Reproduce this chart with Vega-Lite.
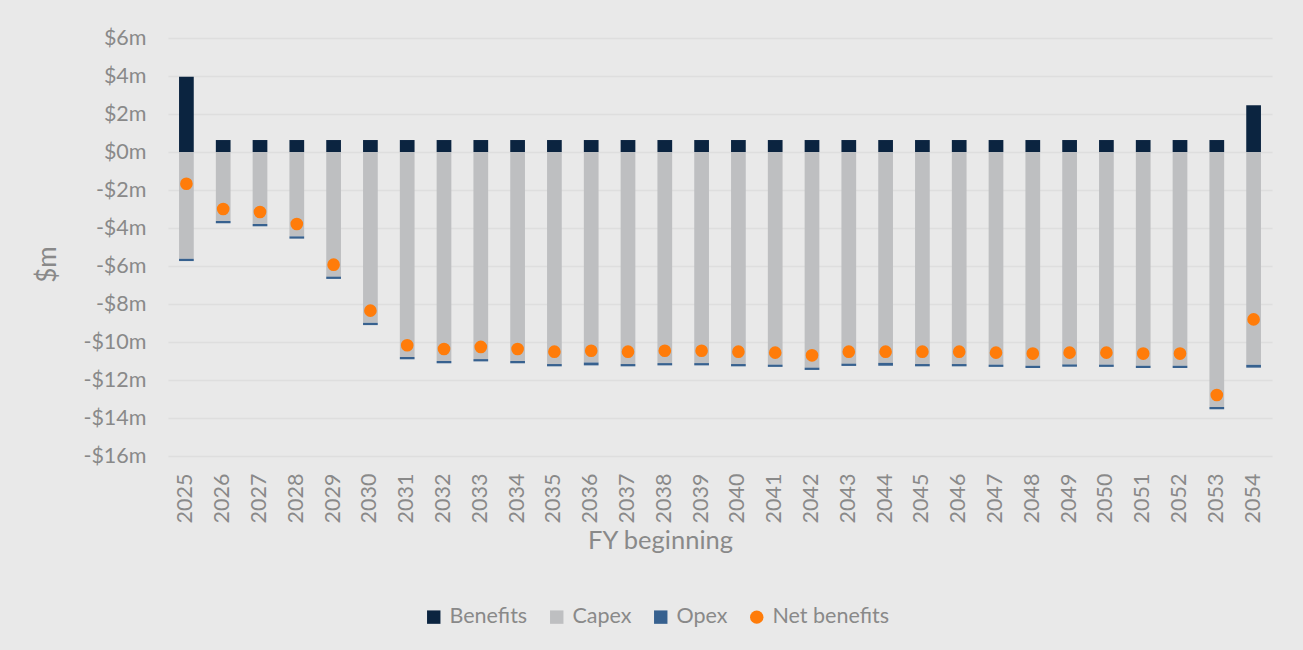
{
  "$schema": "https://vega.github.io/schema/vega-lite/v6.json",
  "width": 1104,
  "height": 418,
  "autosize": {"type": "none"},
  "padding": {"left": 168, "top": 38, "right": 31, "bottom": 194},
  "background": "#E9E9E9",
  "config": {
    "view": {"stroke": null},
    "font": "Lato",
    "axis": {"labelColor": "#898989", "titleColor": "#898989", "labelFont": "Lato", "titleFont": "Lato", "titleFontWeight": "normal"},
    "legend": {"labelColor": "#898989", "labelFont": "Lato"}
  },
  "datasets": {
    "rows": [
      {"year": "2025", "series": "Benefits", "value": 3.96}, {"year": "2025", "series": "Capex", "value": -5.62}, {"year": "2025", "series": "Opex", "value": -0.12}, {"year": "2025", "series": "Net benefits", "value": -1.67},
      {"year": "2026", "series": "Benefits", "value": 0.63}, {"year": "2026", "series": "Capex", "value": -3.63}, {"year": "2026", "series": "Opex", "value": -0.12}, {"year": "2026", "series": "Net benefits", "value": -3.0},
      {"year": "2027", "series": "Benefits", "value": 0.63}, {"year": "2027", "series": "Capex", "value": -3.79}, {"year": "2027", "series": "Opex", "value": -0.12}, {"year": "2027", "series": "Net benefits", "value": -3.16},
      {"year": "2028", "series": "Benefits", "value": 0.63}, {"year": "2028", "series": "Capex", "value": -4.44}, {"year": "2028", "series": "Opex", "value": -0.12}, {"year": "2028", "series": "Net benefits", "value": -3.79},
      {"year": "2029", "series": "Benefits", "value": 0.63}, {"year": "2029", "series": "Capex", "value": -6.56}, {"year": "2029", "series": "Opex", "value": -0.12}, {"year": "2029", "series": "Net benefits", "value": -5.93},
      {"year": "2030", "series": "Benefits", "value": 0.63}, {"year": "2030", "series": "Capex", "value": -8.99}, {"year": "2030", "series": "Opex", "value": -0.12}, {"year": "2030", "series": "Net benefits", "value": -8.35},
      {"year": "2031", "series": "Benefits", "value": 0.63}, {"year": "2031", "series": "Capex", "value": -10.79}, {"year": "2031", "series": "Opex", "value": -0.12}, {"year": "2031", "series": "Net benefits", "value": -10.17},
      {"year": "2032", "series": "Benefits", "value": 0.63}, {"year": "2032", "series": "Capex", "value": -11.0}, {"year": "2032", "series": "Opex", "value": -0.12}, {"year": "2032", "series": "Net benefits", "value": -10.37},
      {"year": "2033", "series": "Benefits", "value": 0.63}, {"year": "2033", "series": "Capex", "value": -10.9}, {"year": "2033", "series": "Opex", "value": -0.12}, {"year": "2033", "series": "Net benefits", "value": -10.26},
      {"year": "2034", "series": "Benefits", "value": 0.63}, {"year": "2034", "series": "Capex", "value": -11.0}, {"year": "2034", "series": "Opex", "value": -0.12}, {"year": "2034", "series": "Net benefits", "value": -10.37},
      {"year": "2035", "series": "Benefits", "value": 0.63}, {"year": "2035", "series": "Capex", "value": -11.16}, {"year": "2035", "series": "Opex", "value": -0.12}, {"year": "2035", "series": "Net benefits", "value": -10.51},
      {"year": "2036", "series": "Benefits", "value": 0.63}, {"year": "2036", "series": "Capex", "value": -11.08}, {"year": "2036", "series": "Opex", "value": -0.15}, {"year": "2036", "series": "Net benefits", "value": -10.46},
      {"year": "2037", "series": "Benefits", "value": 0.63}, {"year": "2037", "series": "Capex", "value": -11.16}, {"year": "2037", "series": "Opex", "value": -0.12}, {"year": "2037", "series": "Net benefits", "value": -10.51},
      {"year": "2038", "series": "Benefits", "value": 0.63}, {"year": "2038", "series": "Capex", "value": -11.11}, {"year": "2038", "series": "Opex", "value": -0.12}, {"year": "2038", "series": "Net benefits", "value": -10.46},
      {"year": "2039", "series": "Benefits", "value": 0.63}, {"year": "2039", "series": "Capex", "value": -11.11}, {"year": "2039", "series": "Opex", "value": -0.12}, {"year": "2039", "series": "Net benefits", "value": -10.46},
      {"year": "2040", "series": "Benefits", "value": 0.63}, {"year": "2040", "series": "Capex", "value": -11.16}, {"year": "2040", "series": "Opex", "value": -0.12}, {"year": "2040", "series": "Net benefits", "value": -10.51},
      {"year": "2041", "series": "Benefits", "value": 0.63}, {"year": "2041", "series": "Capex", "value": -11.19}, {"year": "2041", "series": "Opex", "value": -0.12}, {"year": "2041", "series": "Net benefits", "value": -10.56},
      {"year": "2042", "series": "Benefits", "value": 0.63}, {"year": "2042", "series": "Capex", "value": -11.35}, {"year": "2042", "series": "Opex", "value": -0.12}, {"year": "2042", "series": "Net benefits", "value": -10.7},
      {"year": "2043", "series": "Benefits", "value": 0.63}, {"year": "2043", "series": "Capex", "value": -11.14}, {"year": "2043", "series": "Opex", "value": -0.12}, {"year": "2043", "series": "Net benefits", "value": -10.51},
      {"year": "2044", "series": "Benefits", "value": 0.63}, {"year": "2044", "series": "Capex", "value": -11.1}, {"year": "2044", "series": "Opex", "value": -0.15}, {"year": "2044", "series": "Net benefits", "value": -10.51},
      {"year": "2045", "series": "Benefits", "value": 0.63}, {"year": "2045", "series": "Capex", "value": -11.16}, {"year": "2045", "series": "Opex", "value": -0.12}, {"year": "2045", "series": "Net benefits", "value": -10.51},
      {"year": "2046", "series": "Benefits", "value": 0.63}, {"year": "2046", "series": "Capex", "value": -11.16}, {"year": "2046", "series": "Opex", "value": -0.12}, {"year": "2046", "series": "Net benefits", "value": -10.51},
      {"year": "2047", "series": "Benefits", "value": 0.63}, {"year": "2047", "series": "Capex", "value": -11.19}, {"year": "2047", "series": "Opex", "value": -0.12}, {"year": "2047", "series": "Net benefits", "value": -10.56},
      {"year": "2048", "series": "Benefits", "value": 0.63}, {"year": "2048", "series": "Capex", "value": -11.25}, {"year": "2048", "series": "Opex", "value": -0.12}, {"year": "2048", "series": "Net benefits", "value": -10.61},
      {"year": "2049", "series": "Benefits", "value": 0.63}, {"year": "2049", "series": "Capex", "value": -11.18}, {"year": "2049", "series": "Opex", "value": -0.12}, {"year": "2049", "series": "Net benefits", "value": -10.56},
      {"year": "2050", "series": "Benefits", "value": 0.63}, {"year": "2050", "series": "Capex", "value": -11.19}, {"year": "2050", "series": "Opex", "value": -0.12}, {"year": "2050", "series": "Net benefits", "value": -10.56},
      {"year": "2051", "series": "Benefits", "value": 0.63}, {"year": "2051", "series": "Capex", "value": -11.25}, {"year": "2051", "series": "Opex", "value": -0.12}, {"year": "2051", "series": "Net benefits", "value": -10.61},
      {"year": "2052", "series": "Benefits", "value": 0.63}, {"year": "2052", "series": "Capex", "value": -11.25}, {"year": "2052", "series": "Opex", "value": -0.12}, {"year": "2052", "series": "Net benefits", "value": -10.61},
      {"year": "2053", "series": "Benefits", "value": 0.63}, {"year": "2053", "series": "Capex", "value": -13.42}, {"year": "2053", "series": "Opex", "value": -0.12}, {"year": "2053", "series": "Net benefits", "value": -12.79},
      {"year": "2054", "series": "Benefits", "value": 2.46}, {"year": "2054", "series": "Capex", "value": -11.2}, {"year": "2054", "series": "Opex", "value": -0.15}, {"year": "2054", "series": "Net benefits", "value": -8.81}
    ]
  },
  "data": {"name": "rows"},
  "encoding": {
    "x": {
      "field": "year", "type": "ordinal",
      "scale": {"paddingInner": 0.6, "paddingOuter": 0.3},
      "axis": {"title": "FY beginning", "labelAngle": -90, "labelFontSize": 21.5, "titleFontSize": 25.5, "ticks": false, "domain": false, "labelPadding": 17, "titlePadding": 6, "labelBaseline": "middle", "titleX": 492}
    },
    "y": {
      "field": "value", "type": "quantitative",
      "scale": {"domain": [-16, 6], "nice": false},
      "axis": {
        "title": "$m", "values": [-16, -14, -12, -10, -8, -6, -4, -2, 0, 2, 4, 6],
        "labelExpr": "datum.value < 0 ? '-$' + abs(datum.value) + 'm' : '$' + datum.value + 'm'",
        "labelFontSize": 21.5, "titleFontSize": 26, "ticks": false, "domain": false, "labelPadding": 22, "titlePadding": 22,
        "titleY": 226,
        "gridColor": "#DEDEDE", "gridWidth": 1.5
      }
    },
    "color": {
      "field": "series", "type": "nominal", "title": null,
      "scale": {"domain": ["Benefits", "Capex", "Opex", "Net benefits"], "range": ["#0B2440", "#BEBFC1", "#37618F", "#FF7C0A"]},
      "legend": {
        "orient": "none", "legendX": 255, "legendY": 568, "direction": "horizontal",
        "labelFontSize": 21.5, "symbolSize": 180, "columnPadding": 18, "labelOffset": 5, "symbolStrokeWidth": 0
      }
    }
  },
  "layer": [
    {
      "transform": [{"filter": "datum.series !== 'Net benefits'"}],
      "mark": {"type": "bar"},
      "encoding": {"order": {"field": "series", "sort": "ascending"}}
    },
    {
      "transform": [{"filter": "datum.series === 'Net benefits'"}],
      "mark": {"type": "point", "filled": true, "size": 160, "opacity": 1},
      "encoding": {
        "shape": {
          "field": "series", "type": "nominal", "title": null,
          "scale": {"domain": ["Benefits", "Capex", "Opex", "Net benefits"], "range": ["square", "square", "square", "circle"]}
        }
      }
    }
  ]
}
